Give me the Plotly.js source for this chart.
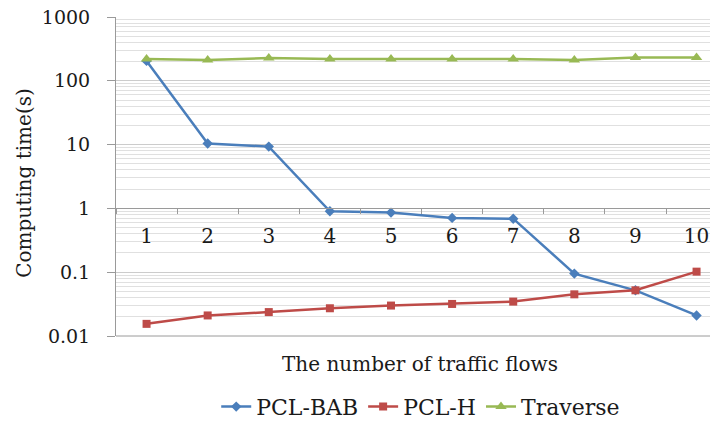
<!DOCTYPE html>
<html>
<head>
<meta charset="utf-8">
<script src="https://cdn.plot.ly/plotly-3.0.1.min.js"></script>
<style>html,body{margin:0;padding:0;background:#fff;}#chart{width:710px;height:428px;}</style>
</head>
<body>
<div id="chart"></div>
<script>
const categories = ['1','2','3','4','5','6','7','8','9','10'];
const pclBab = [205, 10.4, 9.3, 0.9, 0.86, 0.71, 0.69, 0.095, 0.052, 0.021];
const pclH = [0.0155, 0.021, 0.0237, 0.0272, 0.030, 0.0318, 0.0346, 0.045, 0.052, 0.102];
const traverse = [220, 212, 228, 220, 220, 220, 220, 212, 232, 232];
const seriesNames = ['PCL-BAB', 'PCL-H', 'Traverse'];
const yTickVals = [0.01, 0.1, 1, 10, 100, 1000];
const yTickText = ['0.01', '0.1', '1', '10', '100', '1000'];

// map the axis' decade labels onto the tick label array
const yLabelAlias = {};
yTickVals.forEach((v, i) => { yLabelAlias[String(v)] = yTickText[i]; });

const FONT = 'DejaVu Serif';
const TXT = '#1a1a1a';
const traces = [
  {x: categories, y: pclBab, name: seriesNames[0], mode: 'lines+markers', type: 'scatter',
   line: {color: '#4A7EBB', width: 2.5}, marker: {symbol: 'diamond', size: 8, color: '#4A7EBB'}},
  {x: categories, y: pclH, name: seriesNames[1], mode: 'lines+markers', type: 'scatter',
   line: {color: '#BE4B48', width: 2.5}, marker: {symbol: 'square', size: 8, color: '#BE4B48'}},
  {x: categories, y: traverse, name: seriesNames[2], mode: 'lines+markers', type: 'scatter',
   line: {color: '#98B954', width: 2.5}, marker: {symbol: 'triangle-up', size: 10, color: '#98B954'}}
];

const layout = {
  width: 710, height: 428,
  margin: {l: 116, r: 0, t: 17, b: 86, pad: 0},
  paper_bgcolor: '#fff', plot_bgcolor: '#fff',
  font: {family: FONT, size: 20, color: TXT},
  showlegend: true,
  legend: {orientation: 'h', x: 0.513, xanchor: 'center', y: -0.222, yanchor: 'middle',
           font: {family: FONT, size: 22, color: TXT}, bgcolor: 'rgba(0,0,0,0)'},
  xaxis: {type: 'category', range: [-0.5, 9.22], anchor: 'free', position: 0.4,
          showgrid: false, zeroline: false, showline: true, linecolor: '#9a9a9a', linewidth: 1,
          ticks: 'outside', ticklen: 5, tickcolor: '#9a9a9a', tickson: 'boundaries',
          ticklabelstandoff: 10,
          tickfont: {family: FONT, size: 20, color: TXT}},
  yaxis: {type: 'log', range: [-2, 3], showline: true, linecolor: '#9a9a9a', linewidth: 1,
          tickmode: 'linear', tick0: 0, dtick: 1, labelalias: yLabelAlias,
          ticks: 'outside', ticklen: 8, tickcolor: '#9a9a9a', ticklabelstandoff: 13,
          showgrid: true, gridcolor: '#cccccc', gridwidth: 1, zeroline: false,
          minor: {dtick: 'D1', showgrid: true, gridcolor: '#e0e0e0', gridwidth: 1, ticks: ''},
          tickfont: {family: FONT, size: 19, color: TXT}},
  shapes: [{type: 'line', xref: 'paper', yref: 'paper', x0: 0, x1: 1, y0: 0, y1: 0,
            line: {color: '#9a9a9a', width: 1}}],
  annotations: [
    {text: 'The number of traffic flows', xref: 'paper', yref: 'paper', x: 0.512, y: -0.089,
     xanchor: 'center', yanchor: 'middle', showarrow: false, font: {family: FONT, size: 20, color: TXT}},
    {text: 'Computing time(s)', xref: 'paper', yref: 'paper', x: -0.155, y: 0.48, textangle: -90,
     xanchor: 'center', yanchor: 'middle', showarrow: false, font: {family: FONT, size: 20, color: TXT}}
  ]
};

Plotly.newPlot('chart', traces, layout, {displayModeBar: false, staticPlot: true});
</script>
</body>
</html>
